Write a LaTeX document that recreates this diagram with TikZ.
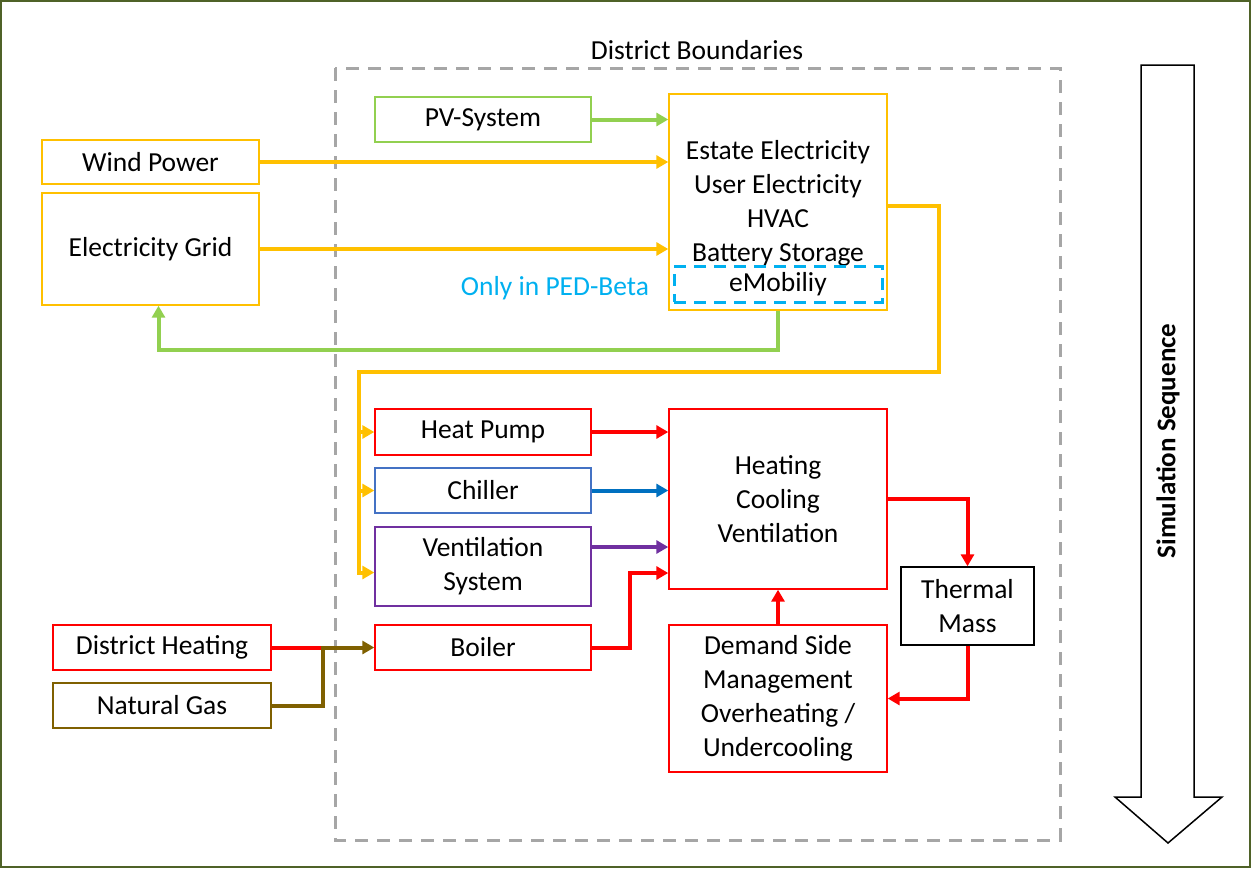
\documentclass[tikz,border=0pt]{standalone}
\usepackage{fontspec}
\setmainfont{Carlito}
\usetikzlibrary{arrows.meta}
\definecolor{elorange}{HTML}{FFC000}
\definecolor{pvgreen}{HTML}{92D050}
\definecolor{hpred}{HTML}{FF0000}
\definecolor{chbox}{HTML}{4472C4}
\definecolor{charr}{HTML}{0070C0}
\definecolor{ventpurple}{HTML}{7030A0}
\definecolor{gasbrown}{HTML}{7F6000}
\definecolor{emobblue}{HTML}{00B0F0}
\definecolor{bordergreen}{HTML}{4F6228}
\definecolor{boundgray}{HTML}{A6A6A6}
\begin{document}
\begin{tikzpicture}[x=1pt, y=-1pt,
	every node/.style={font=\fontsize{27.5}{34}\selectfont, inner sep=0pt, align=center},
	blk/.style={draw=#1, text=black, line width=1.4pt, minimum width=216pt, minimum height=45pt},
	flow/.style={line width=4pt, -{Triangle[length=12pt,width=13pt]}},
	line/.style={line width=4pt}]
	\useasboundingbox (0,0) rectangle (1251,868);
	\draw[bordergreen, line width=2pt] (1,1) rectangle (1250,867);
	\draw[boundgray, line width=3pt, dash pattern=on 13pt off 9pt] (335,68) rectangle (1060,840);
	\node (bound) at (697,50) {District Boundaries};
	\node[blk=pvgreen] (pv) at (483,119.5) {PV-System};
	\node[blk=elorange, minimum width=218pt, minimum height=216pt] (estate) at (778,202) {};
	\node (estxt) at (778,203) {Estate Electricity\\User Electricity\\HVAC\\Battery Storage};
	\node[draw=emobblue, line width=3pt, dash pattern=on 12pt off 8pt, minimum width=208pt, minimum height=36pt] (emob) at (778,284) {eMobiliy};
	\node[emobblue] (beta) at (555,288) {Only in PED-Beta};
	\node[blk=elorange, minimum width=217pt, minimum height=44pt] (wind) at (150.5,162) {Wind Power};
	\node[blk=elorange, minimum width=217pt, minimum height=112pt] (grid) at (150.5,249) {Electricity Grid};
	\node[blk=hpred, minimum height=46pt] (hp) at (483,432) {Heat Pump};
	\node[blk=chbox] (chiller) at (483,490.5) {Chiller};
	\node[blk=ventpurple, minimum height=79pt] (vent) at (483,566.5) {Ventilation\\System};
	\node[blk=hpred] (boiler) at (483,647.5) {Boiler};
	\node[blk=hpred, minimum width=218pt, minimum height=180pt] (hcv) at (778,499) {Heating\\Cooling\\Ventilation};
	\node[blk=black, minimum width=133pt, minimum height=78pt] (thermal) at (967.5,606) {Thermal\\Mass};
	\node[blk=hpred, minimum width=218pt, minimum height=147pt] (dsm) at (778,698.5) {Demand Side\\Management\\Overheating /\\Undercooling};
	\node[blk=hpred, minimum width=218pt] (dh) at (162,647.5) {District Heating};
	\node[blk=gasbrown, minimum width=218pt] (gas) at (162,705.5) {Natural Gas};
	\coordinate (busr) at (939,372);
	\coordinate (bus) at (359,372);
	\coordinate (gj) at (323,647.5);
	\draw[flow, pvgreen] (pv.east) -- (pv.east -| estate.west);
	\draw[flow, elorange] (wind.east) -- (wind.east -| estate.west);
	\draw[flow, elorange] (grid.east) -- (grid.east -| estate.west);
	\draw[flow, pvgreen] (estate.south) -- ++(0,39) -| ([xshift=8pt]grid.south);
	\draw[flow, elorange] ([yshift=-4pt]estate.east) -| (busr) -- (bus) |- ([yshift=-6pt]vent.west);
	\draw[flow, elorange] (bus |- hp.west) -- (hp.west);
	\draw[flow, elorange] (bus |- chiller.west) -- (chiller.west);
	\draw[flow, hpred] (hp.east) -- (hp.east -| hcv.west);
	\draw[flow, charr] (chiller.east) -- (chiller.east -| hcv.west);
	\draw[flow, ventpurple] ([yshift=19.5pt]vent.east) -- ([yshift=19.5pt]vent.east -| hcv.west);
	\draw[flow, hpred] (boiler.east) -- ++(38,0) |- ([yshift=-74pt]hcv.west);
	\draw[flow, hpred] (hcv.east) -| (thermal.north);
	\draw[flow, hpred] (thermal.south) |- (dsm.east);
	\draw[flow, hpred] (dsm.north) -- (hcv.south);
	\draw[line, hpred] (dh.east) -- (gj);
	\draw[flow, gasbrown] (gas.east) -| (gj) -- (boiler.west);
	\draw[line width=1.5pt, fill=white] (1141,65) -- (1194,65) -- (1194,797) -- (1222,797) -- (1168,843) -- (1115,797) -- (1141,797) -- cycle;
	\node[rotate=90, font=\fontsize{27}{32}\selectfont\bfseries] (simseq) at (1168,441) {Simulation Sequence};
\end{tikzpicture}
\end{document}
